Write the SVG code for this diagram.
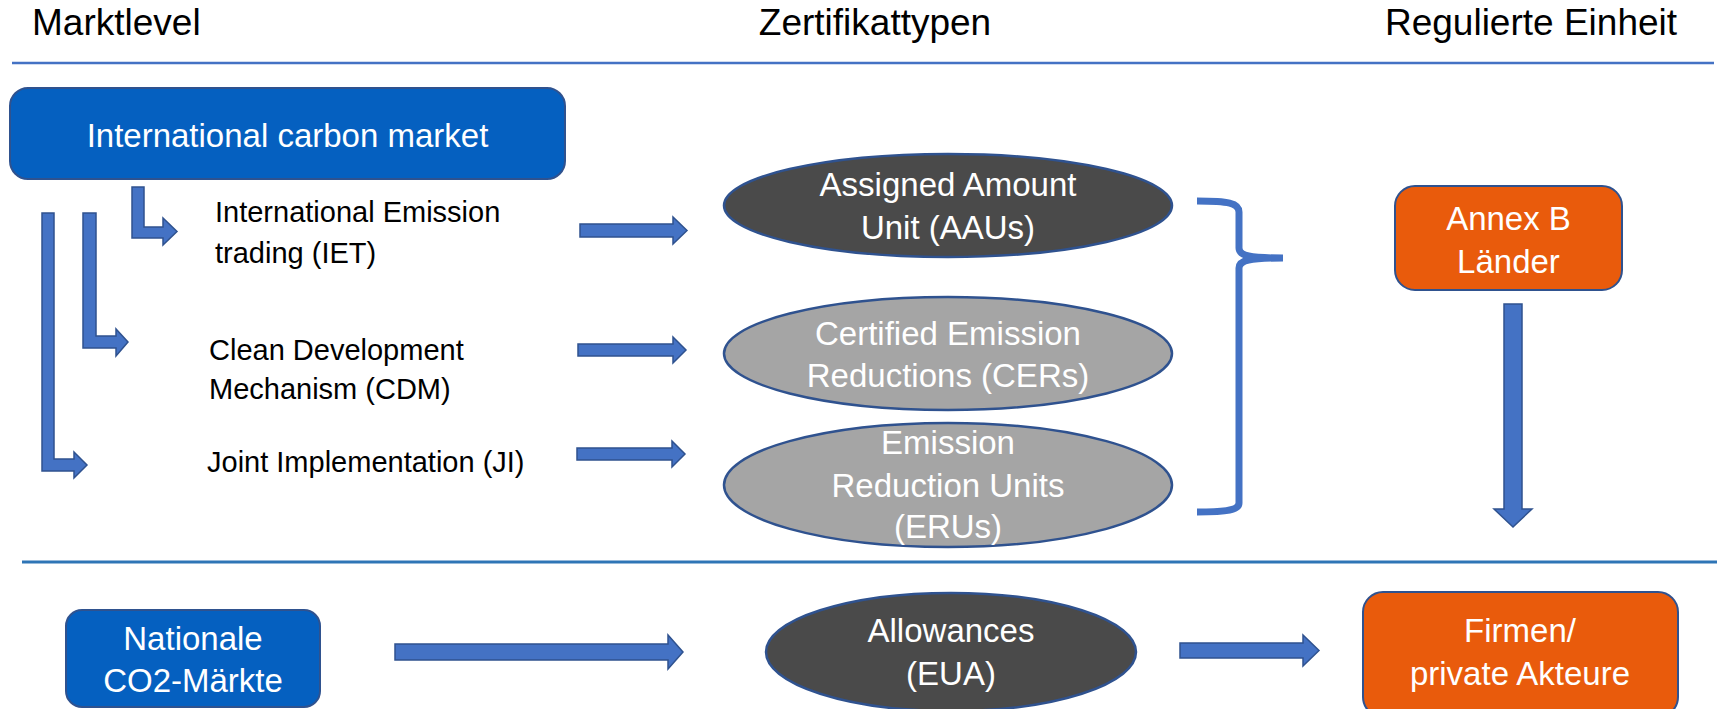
<svg xmlns="http://www.w3.org/2000/svg" width="1717" height="709" viewBox="0 0 1717 709">
<style>
text{font-family:"Liberation Sans",Arial,sans-serif}
.h{font-size:37px;fill:#000}
.lbl{font-size:29px;fill:#000}
.w{font-size:33px;fill:#fff;text-anchor:middle}
.blue{fill:#0560C0;stroke:#2F528F;stroke-width:2}
.orange{fill:#E95B0C;stroke:#2F528F;stroke-width:2}
.dark{fill:#4A4A4A;stroke:#2F528F;stroke-width:2.5}
.gray{fill:#A5A5A5;stroke:#2F528F;stroke-width:2.5}
.arr{fill:#4472C4;stroke:#2F528F;stroke-width:1.5}
</style>
<g id="headers">
<text class="h" x="32" y="35">Marktlevel</text>
<text class="h" x="875" y="35" text-anchor="middle">Zertifikattypen</text>
<text class="h" x="1531" y="35" text-anchor="middle">Regulierte Einheit</text>
<line x1="12" y1="63" x2="1714" y2="63" stroke="#4472C4" stroke-width="2.5"/>
<line x1="22" y1="562" x2="1717" y2="562" stroke="#2E75B6" stroke-width="3"/>
</g>
<g id="icm">
<rect class="blue" x="10" y="88" width="555" height="91" rx="18"/>
<text class="w" x="287.5" y="147">International carbon market</text>
</g>
<g id="iet"><text class="lbl" x="215" y="222">International Emission</text><text class="lbl" x="215" y="263">trading (IET)</text></g>
<g id="cdm"><text class="lbl" x="209" y="360">Clean Development</text><text class="lbl" x="209" y="399">Mechanism (CDM)</text></g>
<g id="ji"><text class="lbl" x="207" y="472">Joint Implementation (JI)</text></g>
<g id="aau">
<ellipse class="dark" cx="948" cy="205.5" rx="224" ry="51.5"/>
<text class="w" x="948" y="196">Assigned Amount</text>
<text class="w" x="948" y="239">Unit (AAUs)</text>
</g>
<g id="cer">
<ellipse class="gray" cx="948" cy="353.5" rx="224" ry="56.5"/>
<text class="w" x="948" y="345">Certified Emission</text>
<text class="w" x="948" y="387">Reductions (CERs)</text>
</g>
<g id="eru">
<ellipse class="gray" cx="948" cy="485" rx="224" ry="62"/>
<text class="w" x="948" y="454">Emission</text>
<text class="w" x="948" y="497">Reduction Units</text>
<text class="w" x="948" y="538">(ERUs)</text>
</g>
<g id="annexb">
<rect class="orange" x="1395" y="186" width="227" height="104" rx="20"/>
<text class="w" x="1508.5" y="230">Annex B</text>
<text class="w" x="1508.5" y="273">Länder</text>
</g>
<g id="nationale">
<rect class="blue" x="66" y="610" width="254" height="97" rx="16"/>
<text class="w" x="193" y="650">Nationale</text>
<text class="w" x="193" y="692">CO2-Märkte</text>
</g>
<g id="allowances">
<ellipse class="dark" cx="951" cy="652" rx="185" ry="59" stroke="#1F4E79"/>
<text class="w" x="951" y="642">Allowances</text>
<text class="w" x="951" y="685">(EUA)</text>
</g>
<g id="firmen">
<rect class="orange" x="1363" y="592" width="315" height="125" rx="20"/>
<text class="w" x="1520" y="642">Firmen/</text>
<text class="w" x="1520" y="685">private Akteure</text>
</g>
<g id="connectors">
<polygon class="arr" points="132,187 144,187 144,227 163,227 163,218 177,231.5 163,245 163,238 132,238"/>
<polygon class="arr" points="83,213 96,213 96,336 116,336 116,329 128,342 116,356 116,348 83,348"/>
<polygon class="arr" points="42,213 54,213 54,459 74,459 74,452 87,465 74,478 74,471 42,471"/>
<polygon class="arr" points="580,224 673,224 673,217 687,230.5 673,244 673,237 580,237"/>
<polygon class="arr" points="578,344 673,344 673,337 686,350 673,363 673,356 578,356"/>
<polygon class="arr" points="577,448 672,448 672,441 685,454 672,467 672,460 577,460"/>
<polygon class="arr" points="395,644 668,644 668,635 683,652 668,669 668,660 395,660"/>
<polygon class="arr" points="1180,643 1303,643 1303,635 1319,650.5 1303,666 1303,658 1180,658"/>
<polygon class="arr" points="1504,304 1522,304 1522,509 1532,509 1513,527 1494,509 1504,509"/>
<path d="M1197,201 C1228,201 1239,203 1239,212 L1239,248 C1239,256 1250,258 1283,258 C1250,258 1239,260 1239,268 L1239,503 C1239,510 1228,512 1197,512" fill="none" stroke="#4472C4" stroke-width="7"/>
</g>
</svg>
